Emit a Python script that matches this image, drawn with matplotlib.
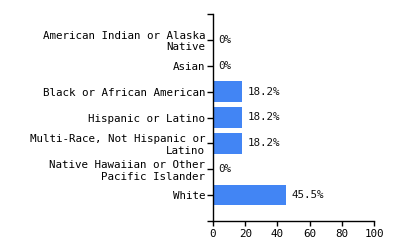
import matplotlib
matplotlib.use("Agg")
import matplotlib.pyplot as plt

categories = ["American Indian or Alaska\nNative", "Asian", "Black or African American",
              "Hispanic or Latino", "Multi-Race, Not Hispanic or\nLatino",
              "Native Hawaiian or Other\nPacific Islander", "White"]
values = [0, 0, 18.2, 18.2, 18.2, 0, 45.5]
value_labels = ["0%", "0%", "18.2%", "18.2%", "18.2%", "0%", "45.5%"]
xticks = [0, 20, 40, 60, 80, 100]

plt.rcParams['font.family'] = ['DejaVu Sans Mono']
fs = 7.8

fig = plt.figure(figsize=(4, 2.5), dpi=100)
ax = fig.add_axes([213/400, 1-221/250, (374-213)/400, (221-14)/250])

ypos = list(range(len(categories)))
ax.barh(ypos, values, height=0.8, color="#4285f4")
for y, v, lab in zip(ypos, values, value_labels):
    ax.text(v + 3.5, y, lab, va="center", ha="left", fontsize=fs, color="#111111")

ax.set_ylim(len(categories), -1)
ax.set_xlim(0, 100)
ax.set_yticks(ypos)
ax.set_yticklabels(categories, fontsize=fs, linespacing=1.2)
ax.set_yticks([-1, len(categories)], minor=True)
ax.set_xticks(xticks)
ax.set_xticklabels([str(t) for t in xticks], fontsize=fs)
for s in ["top", "right"]:
    ax.spines[s].set_visible(False)
for s in ["left", "bottom"]:
    ax.spines[s].set_linewidth(1.0)
    ax.spines[s].set_color("black")
ax.tick_params(axis="y", which="both", length=4, width=1, pad=1.5)
ax.tick_params(axis="x", length=3.5, width=1, pad=2)

fig.savefig("out.png", dpi=100)
